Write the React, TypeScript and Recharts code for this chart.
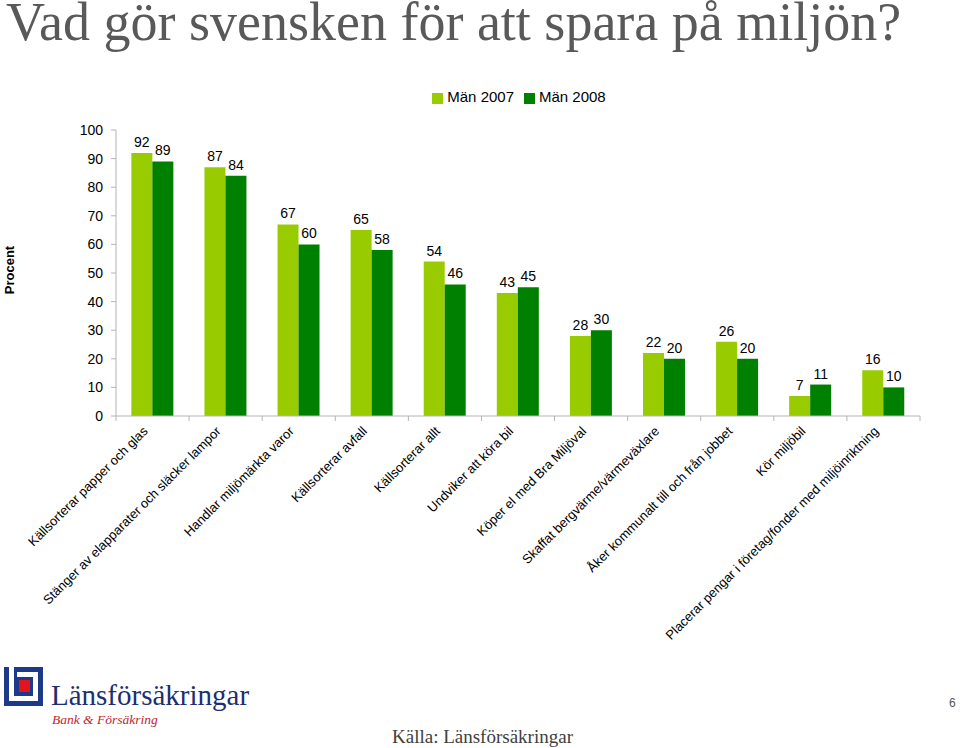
import { Bar, BarChart, LabelList, Legend, XAxis, YAxis } from "recharts";

const categories = [
	"Källsorterar papper och glas",
	"Stänger av elapparater och släcker lampor",
	"Handlar miljömärkta varor",
	"Källsorterar avfall",
	"Källsorterar allt",
	"Undviker att köra bil",
	"Köper el med Bra Miljöval",
	"Skaffat bergvärme/värmeväxlare",
	"Åker kommunalt till och från jobbet",
	"Kör miljöbil",
	"Placerar pengar i företag/fonder med miljöinriktning",
];
const men2007 = [92, 87, 67, 65, 54, 43, 28, 22, 26, 7, 16];
const men2008 = [89, 84, 60, 58, 46, 45, 30, 20, 20, 11, 10];
const yTicks = [0, 10, 20, 30, 40, 50, 60, 70, 80, 90, 100];

const data = categories.map((name, i) => ({
	name,
	"Män 2007": men2007[i],
	"Män 2008": men2008[i],
}));

const COLORS = ["#99CC00", "#008000"];
const PLOT_LEFT = 116;
const PLOT_RIGHT = 920;
const BAND = (PLOT_RIGHT - PLOT_LEFT) / categories.length;

function CategoryTick(props: any) {
	const { x, y, payload, index } = props;
	const tx = x - 4;
	const ty = y + 8;
	return (
		<g>
			<line x1={x - BAND / 2} x2={x - BAND / 2} y1={416} y2={421} stroke="#b4b4b4" />
			{index === categories.length - 1 ? (
				<line x1={x + BAND / 2} x2={x + BAND / 2} y1={416} y2={421} stroke="#b4b4b4" />
			) : null}
			<text
				x={tx}
				y={ty}
				transform={`rotate(-45 ${tx} ${ty})`}
				textAnchor="end"
				fontSize={13}
				fontFamily="Liberation Sans, Arial, sans-serif"
				fill="#000"
			>
				{payload.value}
			</text>
		</g>
	);
}

export default function App() {
	return (
		<div
			style={{
				position: "absolute",
				left: 0,
				top: 0,
				width: 960,
				height: 748,
				background: "#fff",
				overflow: "hidden",
			}}
		>
			<div
				style={{
					position: "absolute",
					left: 6,
					top: 0,
					fontFamily: "Liberation Serif, Times New Roman, serif",
					fontSize: 54,
					lineHeight: "44px",
					color: "#595959",
					whiteSpace: "nowrap",
				}}
			>
				Vad gör svensken för att spara på miljön?
			</div>

			<div
				style={{
					position: "absolute",
					left: 9,
					top: 270,
					transform: "translate(-50%, -50%) rotate(-90deg)",
					fontFamily: "Liberation Sans, Arial, sans-serif",
					fontSize: 13,
					fontWeight: "bold",
				}}
			>
				Procent
			</div>

			<div style={{ position: "absolute", left: 0, top: 0 }}>
				<BarChart
					width={960}
					height={748}
					data={data}
					margin={{ top: 130, right: 960 - PLOT_RIGHT, bottom: 0, left: 0 }}
					barCategoryGap="21%"
					barGap={0}
				>
					<XAxis
						dataKey="name"
						height={332}
						interval={0}
						tickLine={false}
						axisLine={{ stroke: "#b4b4b4" }}
						tick={<CategoryTick />}
					/>
					<YAxis
						width={PLOT_LEFT}
						domain={[0, 100]}
						ticks={yTicks}
						interval={0}
						tickSize={5}
						tickMargin={8}
						axisLine={{ stroke: "#b4b4b4" }}
						tickLine={{ stroke: "#b4b4b4" }}
						tick={{
							fill: "#000",
							fontSize: 14,
							fontFamily: "Liberation Sans, Arial, sans-serif",
						}}
					/>
					<Legend
						layout="horizontal"
						verticalAlign="middle"
						align="center"
						iconType="square"
						iconSize={11}
						wrapperStyle={{
							top: 88,
							left: 81,
							width: 886,
							fontSize: 15,
							fontFamily: "Liberation Sans, Arial, sans-serif",
						}}
						formatter={(value: string) => <span style={{ color: "#000" }}>{value}</span>}
					/>
					{["Män 2007", "Män 2008"].map((key, i) => (
						<Bar key={key} dataKey={key} fill={COLORS[i]} isAnimationActive={false}>
							<LabelList
								dataKey={key}
								position="top"
								offset={6}
								fill="#000"
								fontSize={14}
								fontFamily="Liberation Sans, Arial, sans-serif"
							/>
						</Bar>
					))}
				</BarChart>
			</div>

			{/* logo */}
			<div style={{ position: "absolute", left: 4, top: 667, width: 39, height: 39, background: "#1d3a8a" }}>
				<div style={{ position: "absolute", left: 5, top: 0, width: 5, height: 34, background: "#fff" }} />
				<div style={{ position: "absolute", left: 5, top: 29, width: 29, height: 5, background: "#fff" }} />
				<div style={{ position: "absolute", left: 13, top: 5, width: 21, height: 5, background: "#fff" }} />
				<div style={{ position: "absolute", left: 29, top: 5, width: 5, height: 29, background: "#fff" }} />
				<div style={{ position: "absolute", left: 15, top: 13, width: 11, height: 12, background: "#e3141b" }} />
			</div>
			<div
				style={{
					position: "absolute",
					left: 51,
					top: 681,
					fontFamily: "Liberation Serif, Times New Roman, serif",
					fontSize: 29,
					lineHeight: "28px",
					color: "#1d2f6f",
				}}
			>
				Länsförsäkringar
			</div>
			<div
				style={{
					position: "absolute",
					left: 52,
					top: 713,
					fontFamily: "Liberation Serif, Times New Roman, serif",
					fontStyle: "italic",
					fontSize: 13.5,
					lineHeight: "14px",
					color: "#c0272d",
				}}
			>
				Bank &amp; Försäkring
			</div>
			<div
				style={{
					position: "absolute",
					left: 392,
					top: 727,
					fontFamily: "Liberation Serif, Times New Roman, serif",
					fontSize: 19,
					lineHeight: "20px",
					color: "#404040",
				}}
			>
				Källa: Länsförsäkringar
			</div>
			<div
				style={{
					position: "absolute",
					left: 949,
					top: 696,
					fontFamily: "Liberation Sans, Arial, sans-serif",
					fontSize: 12,
					color: "#555",
				}}
			>
				6
			</div>
		</div>
	);
}
